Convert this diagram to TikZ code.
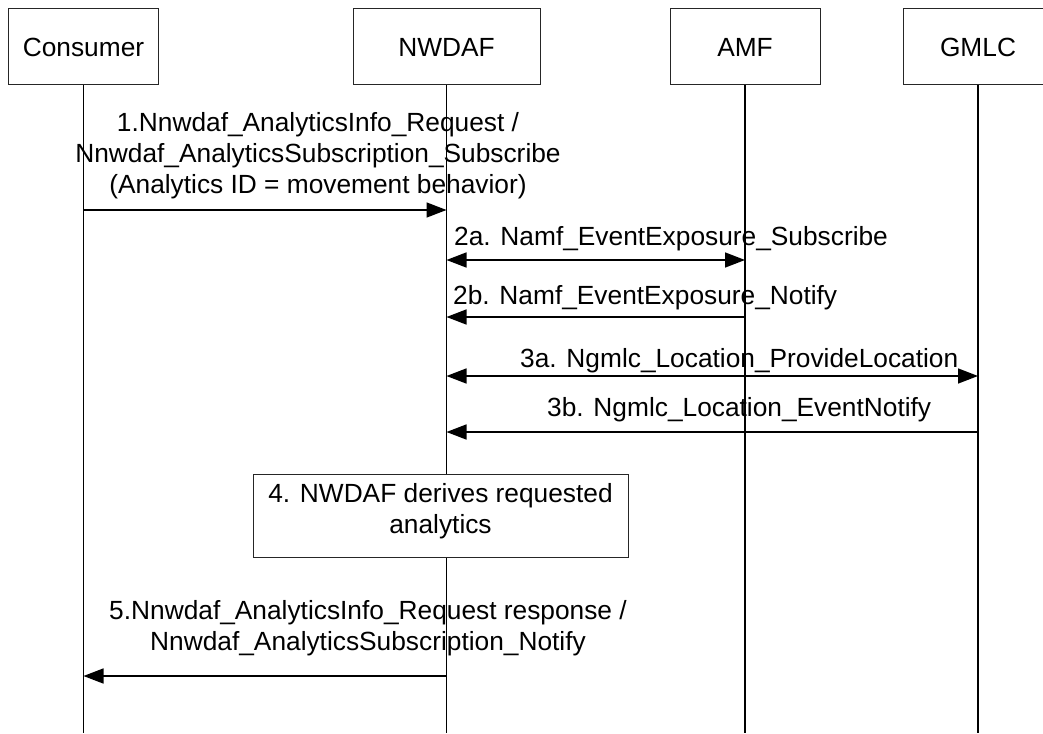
\documentclass[tikz,border=0pt]{standalone}
\usepackage{fontspec}
\setmainfont{Liberation Sans}
\usetikzlibrary{arrows.meta}
\begin{document}
\begin{tikzpicture}[x=1pt,y=-1pt,
  every node/.style={font=\fontsize{26.3}{31}\selectfont, inner sep=0pt},
  hdr/.style={draw=black!85, line width=1pt, minimum height=76pt},
  life/.style={line width=1.3pt},
  tip/.tip={Triangle[length=20pt,width=15pt]},
  msg/.style={line width=1.5pt, -tip},
  dmsg/.style={line width=1.5pt, tip-tip},
  lbl/.style={align=center}]
\useasboundingbox (0,0) rectangle (1043,733);
\fill[white] (0,0) rectangle (1043,733);
% headers
\node[hdr, minimum width=150pt] (cons) at (83.5,47) {Consumer};
\node[hdr, minimum width=187pt] (nwdaf) at (446.5,47) {NWDAF};
\node[hdr, minimum width=150pt] (amf) at (745,47) {AMF};
\node[hdr, minimum width=150pt] (gmlc) at (978,47) {GMLC};
% lifeline ends
\coordinate (consE) at (83.5,733);
\coordinate (nwdafE) at (446.5,733);
\coordinate (amfE) at (745,733);
\coordinate (gmlcE) at (978,733);
\draw[life] (cons.south) -- (consE);
\draw[life] (nwdaf.south) -- (nwdafE);
\draw[life] (amf.south) -- (amfE);
\draw[life] (gmlc.south) -- (gmlcE);
% message 1
\coordinate (m1a) at (83.5,210);
\coordinate (m1b) at (446.5,210);
\draw[msg] (m1a) -- (m1b);
\node[lbl, anchor=base] (l1) at (318,193) {1.Nnwdaf\_AnalyticsInfo\_Request /\\Nnwdaf\_AnalyticsSubscription\_Subscribe\\(Analytics ID = movement behavior)};
% message 2a
\coordinate (m2aa) at (446.5,260);
\coordinate (m2ab) at (745,260);
\draw[dmsg] (m2aa) -- (m2ab);
\node[anchor=base west] (l2a) at (454,245) {2a. Namf\_EventExposure\_Subscribe};
% message 2b
\coordinate (m2ba) at (745,317);
\coordinate (m2bb) at (446.5,317);
\draw[msg] (m2ba) -- (m2bb);
\node[anchor=base west] (l2b) at (453,304) {2b. Namf\_EventExposure\_Notify};
% message 3a
\coordinate (m3aa) at (446.5,376);
\coordinate (m3ab) at (978,376);
\draw[dmsg] (m3aa) -- (m3ab);
\node[anchor=base west] (l3a) at (520,367) {3a. Ngmlc\_Location\_ProvideLocation};
% message 3b
\coordinate (m3ba) at (978,432);
\coordinate (m3bb) at (446.5,432);
\draw[msg] (m3ba) -- (m3bb);
\node[anchor=base west] (l3b) at (547,416) {3b. Ngmlc\_Location\_EventNotify};
% step 4
\node[draw=black!85, line width=1pt, fill=white, minimum width=375pt, minimum height=83pt] (s4) at (440.5,515.5) {};
\node[lbl, anchor=base] (l4) at (440.5,533) {4. NWDAF derives requested\\analytics};
% message 5
\coordinate (m5a) at (446.5,676);
\coordinate (m5b) at (83.5,676);
\draw[msg] (m5a) -- (m5b);
\node[lbl, anchor=base] (l5) at (368,650) {5.Nnwdaf\_AnalyticsInfo\_Request response /\\Nnwdaf\_AnalyticsSubscription\_Notify};
\end{tikzpicture}
\end{document}
